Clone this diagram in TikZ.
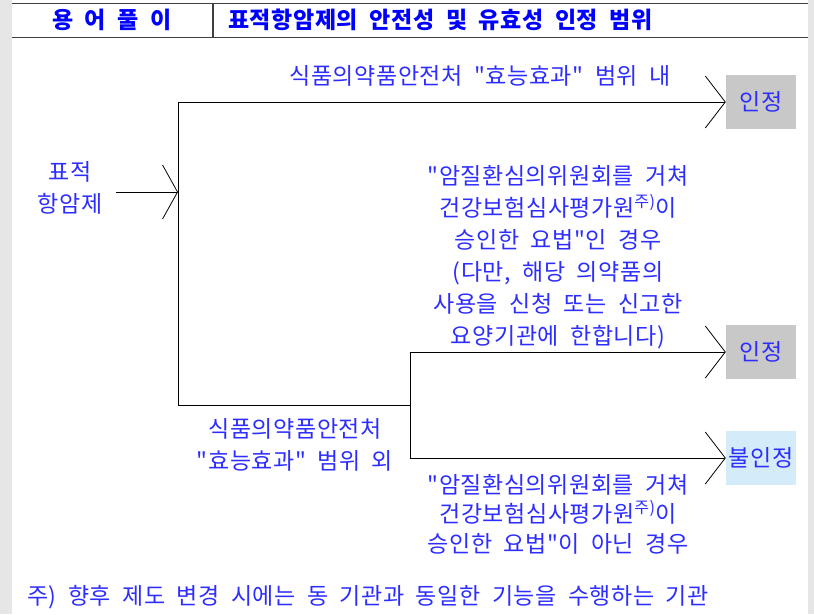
\documentclass[tikz,border=0pt]{standalone}
\usepackage{fontspec}
\setmainfont{Noto Sans CJK KR}[Ligatures=TeXOff,WordSpace=2,LetterSpace=2.5]
\usetikzlibrary{arrows.meta}
\definecolor{termblue}{RGB}{0,0,255}
\definecolor{txtblue}{RGB}{45,45,255}
\definecolor{okgray}{RGB}{200,200,200}
\definecolor{noblue}{RGB}{212,236,250}
\definecolor{sidegray}{RGB}{230,230,230}
\definecolor{rulegray}{RGB}{64,64,64}
\tikzset{
  hdr/.style={font=\fontsize{23}{26}\selectfont\bfseries,text=termblue,inner sep=0pt},
  lbl/.style={font=\fontsize{23}{32}\selectfont,text=txtblue,align=center,inner sep=0pt},
  okbox/.style={lbl,fill=okgray,minimum width=70pt,minimum height=54pt},
  nobox/.style={okbox,fill=noblue},
  branch/.style={line width=0.9pt,-{Straight Barb[length=20pt,width=52pt,line width=0.8pt]}},
  feed/.style={line width=0.9pt,-{Straight Barb[length=15pt,width=54pt,line width=0.8pt]}}
}
\begin{document}
\begin{tikzpicture}[x=1pt,y=-1pt]
\useasboundingbox (0,0) rectangle (814,614);
\fill[sidegray] (0,0) rectangle (11.5,614);
\fill[sidegray] (808,0) rectangle (814,614);
% header row
\draw[rulegray,line width=1.6pt] (11.5,3.5) -- (808,3.5);
\draw[rulegray,line width=1.2pt] (11.5,37.5) -- (808,37.5);
\draw[rulegray,line width=1.2pt] (213,3.5) -- (213,37.5);
\node[hdr] (term) at (112,20) {용 어 풀 이};
\node[hdr,anchor=west] (title) at (228,20) {표적항암제의 안전성 및 유효성 인정 범위};
% outcome boxes
\node[okbox] (ok1) at (761,102) {인정};
\node[okbox] (ok2) at (761,352) {인정};
\node[nobox] (no) at (761,458) {불인정};
% tree
\node[lbl] (drug) at (70,188) {표적\\항암제};
\coordinate (feedIn) at (116,192);
\coordinate (split) at (178,192);
\coordinate (top) at (178,102);
\coordinate (bot) at (178,405);
\coordinate (fork) at (410,405);
\coordinate (forkT) at (410,352);
\coordinate (forkB) at (410,458);
\draw[feed] (feedIn) -- (split);
\draw[branch] (fork) -- (bot) -- (top) -- (ok1);
\draw[branch] (forkB) -- (forkT) -- (ok2);
\draw[branch] (forkB) -- (no);
% labels
\node[lbl] (inside) at (480,76) {식품의약품안전처 "효능효과" 범위 내};
\node[lbl] (cond1) at (558,257) {"암질환심의위원회를 거쳐\\건강보험심사평가원\textsuperscript{주)}이\\승인한 요법"인 경우\\(다만, 해당 의약품의\\사용을 신청 또는 신고한\\요양기관에 한합니다)};
\node[lbl] (outside) at (295,445) {식품의약품안전처\\"효능효과" 범위 외};
\node[lbl,font=\fontsize{23}{29.5}\selectfont] (cond2) at (558,514) {"암질환심의위원회를 거쳐\\건강보험심사평가원\textsuperscript{주)}이\\승인한 요법"이 아닌 경우};
\node[lbl,anchor=west] (note) at (27,597) {주) 향후 제도 변경 시에는 동 기관과 동일한 기능을 수행하는 기관};
\end{tikzpicture}
\end{document}
